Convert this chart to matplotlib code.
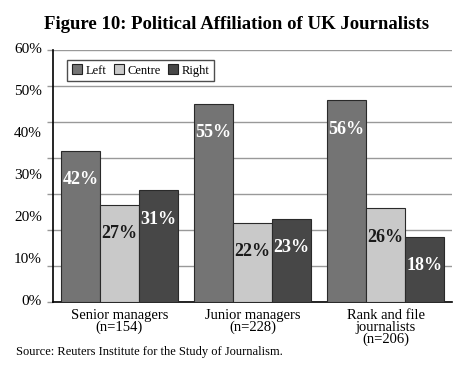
import matplotlib.pyplot as plt
import matplotlib.transforms as mtransforms
import numpy as np

groups = ["Senior managers\n(n=154)", "Junior managers\n(n=228)", "Rank and file\njournalists\n(n=206)"]
series = ["Left", "Centre", "Right"]
left = [42, 55, 56]
centre = [27, 22, 26]
right = [31, 23, 18]
# the printed axis labels do not sit on the gridlines in the original
tick_labels = ["0%", "10%", "20%", "30%", "40%", "50%", "60%"]

plt.rcParams['font.family'] = ['Liberation Serif', 'DejaVu Serif']

fig = plt.figure(figsize=(4.74, 3.70), dpi=100)
ax = fig.add_axes([0.1118, 0.1838, 0.8418, 0.6811])

x = np.arange(len(groups))
w = 0.292
colours = ["#747474", "#c9c9c9", "#474747"]
txt_col = ["white", "#1a1a1a", "white"]
for i, (vals, name) in enumerate(zip([left, centre, right], series)):
    bars = ax.bar(x + (i - 1) * w, vals, w, color=colours[i], edgecolor="#2a2a2a",
                  linewidth=0.8, label=name, zorder=3)
    for b, v in zip(bars, vals):
        ax.text(b.get_x() + w / 2, v - 8, f"{v}%", ha="center", va="center",
                fontsize=13, fontweight="bold", color=txt_col[i], zorder=4)

ax.set_xlim(-0.5, 2.5)
ax.set_ylim(0, 70)
ax.set_yticks(np.arange(0, 71, 10))
ax.set_yticklabels([])
ax.tick_params(axis="y", length=4, width=1, color="#999999", direction="out")
trans = mtransforms.blended_transform_factory(ax.transAxes, ax.transData)
for lab, yv in zip(tick_labels, np.linspace(0, 70, 7)):
    ax.text(-0.028, yv, lab, transform=trans, ha="right", va="center", fontsize=11)
ax.yaxis.grid(True, color="#999999", linewidth=1, zorder=0)
ax.set_xticks(x)
ax.set_xticklabels(groups, fontsize=10.5, linespacing=0.9)
ax.tick_params(axis="x", length=0, pad=5)
for s in ["top", "right"]:
    ax.spines[s].set_visible(False)
ax.spines["left"].set_linewidth(1.2)
ax.spines["bottom"].set_linewidth(1.2)

leg = ax.legend(loc="upper left", bbox_to_anchor=(0.02, 0.985), ncol=3, fontsize=9,
                frameon=True, fancybox=False, edgecolor="#222222", handlelength=0.8,
                handleheight=0.8, handletextpad=0.3, columnspacing=0.6, borderpad=0.35)
leg.get_frame().set_linewidth(1)
for h in leg.legend_handles:
    h.set_edgecolor("#222222")

fig.text(0.5, 0.935, "Figure 10: Political Affiliation of UK Journalists", ha="center",
         va="center", fontsize=13.5, fontweight="bold")
fig.text(0.034, 0.048, "Source: Reuters Institute for the Study of Journalism.", ha="left",
         va="center", fontsize=9)

fig.savefig("out.png", dpi=100)
